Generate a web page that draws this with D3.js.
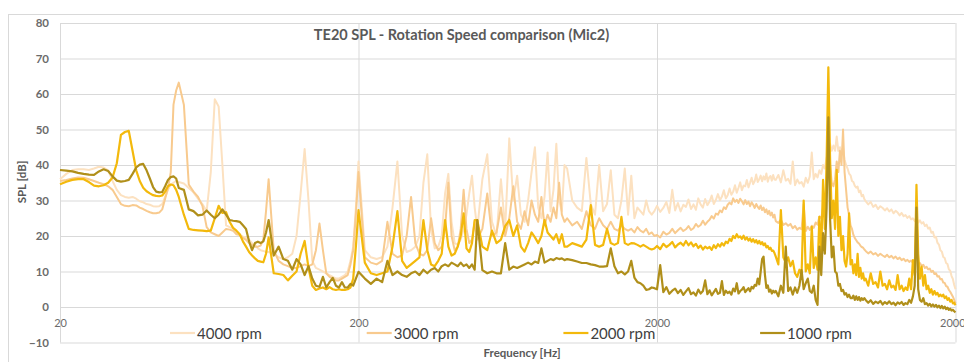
<!DOCTYPE html>
<html><head><meta charset="utf-8">
<script src="https://cdn.jsdelivr.net/npm/d3@7"></script>
<style>
body{margin:0;background:#fff}
svg{display:block}
text{font-family:Lato,"Open Sans",sans-serif}
</style>
</head><body>
<svg id="chart" width="964" height="362"></svg>
<script>
// ---------- DATA ----------
const freqs = [
 20,21,22,23,24,25,26,27,28,29,30,31,32,33,34,35,36,37,38,39,40,41,42,43,44,45,46,47,48,49,
 50,52,54,56,58,60,62,64,66,68,70,72,74,76,78,80,82,84,86,88,90,92,94,96,98,
 100,104,108,112,116,120,124,128,132,136,140,144,148,152,156,160,164,168,172,176,180,184,188,192,196,
 200,210,220,230,240,250,260,270,280,290,300,310,320,330,340,350,360,370,380,390,400,410,420,430,440,450,460,470,480,490,
 500,520,540,560,580,600,620,640,660,680,700,720,740,760,780,800,820,840,860,880,900,920,940,960,980,
 1000,1040,1080,1120,1160,1200,1240,1280,1320,1360,1400,1440,1480,1520,1560,1600,1640,1680,1720,1760,1800,1840,1880,1920,1960,
 2000,2050,2100,2150,2200,2250,2300,2350,2400,2450,2500,2550,2600,2650,2700,2750,2800,2850,2900,2950,
 3000,3050,3100,3150,3200,3250,3300,3350,3400,3450,3500,3550,3600,3650,3700,3750,3800,3850,3900,3950,
 4000,4050,4100,4150,4200,4250,4300,4350,4400,4450,4500,4550,4600,4650,4700,4750,4800,4850,4900,4950,
 5000,5100,5200,5300,5400,5500,5600,5700,5800,5900,6000,6100,6200,6300,6400,6500,6600,6700,6800,6900,
 7000,7100,7200,7300,7400,7500,7600,7700,7800,7900,8000,8100,8200,8300,8400,8500,8600,8700,8800,8900,
 9000,9100,9200,9300,9400,9500,9600,9700,9800,9900,
 10000,10200,10400,10600,10800,11000,11200,11400,11600,11800,12000,12200,12400,12600,12800,13000,13200,13400,13600,13800,
 14000,14200,14400,14600,14800,15000,15200,15400,15600,15800,16000,16200,16400,16600,16800,17000,17200,17400,17600,17800,
 18000,18200,18400,18600,18800,19000,19200,19400,19600,19800,20000
];

const rpm4000 = [
 36.0,37.5,38.6,38.8,38.8,38.6,39.0,39.5,39.3,38.5,35.5,33.0,31.5,31.0,30.8,31.0,30.5,29.8,29.5,29.0,28.8,28.4,28.3,28.4,29.0,31.0,33.0,34.5,35.0,35.5,
 35.2,34.8,33.5,32.3,30.5,29.0,27.0,38.0,58.5,56.5,40.0,23.0,22.5,22.0,21.0,20.5,19.8,19.5,19.0,18.0,17.5,16.5,16.0,15.8,15.5,
 15.5,15.0,14.0,13.5,14.0,15.0,20.0,32.0,44.5,30.0,13.0,11.0,10.5,10.0,9.5,9.0,8.5,8.0,8.0,8.5,9.0,10.0,13.0,17.0,28.0,
 41.0,16.0,14.0,13.5,14.0,17.0,28.0,41.0,20.0,15.5,16.0,17.0,20.0,35.0,43.0,22.0,16.5,17.0,20.0,32.0,37.5,24.0,18.0,17.5,19.0,22.0,26.0,32.0,37.0,28.0,
 22,36,43,24,20,36,22,47.5,30,37,26,24,30,38,45,28,25,31,43.5,27,33,46,30,27,40,
 39,30,28,27,42,29,26,40,27,29,38.5,26,25,30,39,26,37,25,28,27,26,30,27,26,27,
 28.5,26.8,27.9,29.6,26.5,33,27.2,29.3,26.9,28.8,
 28.2,30.3,27.6,28.9,27.4,30.6,28.9,28.0,30.4,28.7,
 29.7,31.4,29.0,30.2,31.8,30.1,31.1,32.9,30.6,31.5,
 33.4,31.6,32.5,34.3,32.2,33.6,35.1,32.9,34.2,34.0,
 35.8,33.7,35.0,36.4,34.6,35.5,37.3,35.2,36.0,37.0,
 35.4,36.8,35.9,37.6,35.3,36.5,36.9,35.6,37.2,35.9,
 35.8,37.2,35.1,38.5,35.6,36.1,34.7,41.0,34.3,35.9,34.8,35.2,33.9,36.4,35.0,36.8,43.5,36,37.5,36.5,
 38.5,37.5,40,39,42,44,46,44,45.5,44,48,44,45,43,45,41.5,40,39,37.6,37.1,
 35.5,35.2,34.1,33.6,33.9,32.3,32.8,31.2,31.6,30.4,
 29.8,28.9,29.6,28.2,28.8,27.6,28.4,27.9,27.2,27.8,
 26.9,27.5,26.4,27.1,26.6,25.8,26.5,25.6,25.9,25.1,
 25.6,24.7,25.0,24.2,25.3,23.8,24.4,23.5,23.9,22.8,
 23.2,22.1,22.4,20.9,21.2,19.6,19.8,18.1,17.6,16.0,
 15.6,14.1,13.8,12.4,12.1,10.6,10.2,8.7,7.9,6.2,5.0
];

const rpm3000 = [
 35.5,35.8,36.2,36.5,36.4,36.0,35.5,35.0,34.6,34.0,33.0,31.0,29.0,28.5,28.4,28.7,28.6,28.0,27.6,27.1,26.7,26.4,26.4,26.6,27.5,30.5,33.5,38.0,57.0,61.0,
 63.2,57.0,34.5,32.5,31.0,28.5,22.5,21.0,20.5,20.0,21.0,22.0,21.8,21.5,20.5,20.3,19.5,18.9,18.0,17.5,17.0,17.0,17.3,19.0,27.0,
 36.0,16.0,13.0,12.0,11.5,11.0,11.0,11.5,12.0,11.5,12.0,16.0,23.5,16.0,9.5,8.5,8.0,7.5,7.5,8.0,8.5,9.0,12.0,16.0,26.0,
 38.0,14.0,12.5,12.0,13.0,24.0,15.0,14.0,14.5,20.0,31.0,18.0,15.0,14.5,16.0,25.0,18.0,16.0,17.0,22.0,35.0,20.0,16.0,17.0,22.0,33.0,22.0,18.0,19.0,24.0,
 19,22,32,20,21,28,20,25,34,24,22,27,23,30,26,24,31,23,26,24,28,25,35,26,24,
 25,23,24,22,27,23,22,25,23,22,24,22,21.5,23,22,21.5,22,21,22.5,21.5,21,22,20.5,21,20,
 20.3,19.6,21.2,20.4,20.9,22.0,20.8,21.6,22.3,21.4,
 21.9,22.8,21.7,22.2,23.4,22.6,23.1,24.3,23.2,24.0,
 24.6,25.6,24.9,26.3,26.0,27.2,26.7,28.1,27.6,28.8,
 29.4,28.9,30.6,29.6,30.2,29.3,30.5,29.8,28.9,30.1,
 29.0,29.7,28.4,29.5,28.8,27.9,29.0,28.2,27.6,28.6,
 27.3,28.0,26.7,27.5,26.2,27.1,25.8,26.6,25.2,26.0,
 24.2,23.7,24.6,23.1,23.6,22.9,23.4,22.2,22.8,21.8,22.3,21.9,29,21.4,22.6,21.7,22.9,22.3,23.8,23.2,
 25.5,25,28,27,33,38,40,35,34,36,41,38,44,40,50,38,33,28,26,23,
 22,20.3,19.4,18.8,18.2,17.9,17.3,16.9,16.7,16.2,
 15.8,15.1,15.6,14.8,15.2,14.4,15.0,14.5,14.1,14.7,
 14.0,14.4,13.7,14.2,13.5,13.9,13.2,13.6,12.9,13.3,
 12.7,13.1,12.4,12.8,17.0,12.2,12.4,11.6,11.9,11.0,
 11.3,10.6,10.8,9.9,10.2,9.3,9.5,8.6,8.7,7.8,
 7.9,6.9,6.8,5.9,5.7,4.8,4.3,3.6,2.9,2.0,1.0
];

const rpm2000 = [
 34.6,35.3,35.8,36.0,36.0,35.2,34.2,34.0,34.3,35.0,36.5,40.5,48.5,49.3,49.6,44.0,38.5,35.5,33.6,32.6,32.0,31.5,31.3,31.2,31.4,32.5,34.0,34.5,34.3,33.0,
 31.0,26.0,22.0,21.7,21.6,21.5,21.4,21.5,25.0,28.5,26.5,26.7,24.0,22.3,21.5,20.5,18.5,17.0,15.5,14.5,13.7,13.0,12.8,12.6,15.0,
 19.6,9.5,9.3,9.0,7.5,8.8,10.0,15.0,18.6,11.0,6.0,4.8,5.2,5.5,5.0,5.6,5.0,4.8,5.0,4.8,4.8,5.0,5.5,8.0,17.0,
 27.3,12.5,9.5,9.0,9.5,10.0,17.0,27.0,13.0,11.0,12.0,13.0,14.0,24.5,16.0,12.0,11.5,13.0,15.0,24.5,17.0,14.5,15.0,17.0,20.0,26.4,16.5,15.5,18.0,24.5,
 24.5,17,16,21.5,18,19,22.8,24.5,20,23,17,15.6,18,21,19.6,18,20,24.5,21,20,19,20.5,18,20.5,17,
 17,18,17.5,17,19,28.7,17.5,17,17.5,22,18,17.5,18,25.4,18,17.5,18,17.9,17.5,17,17.5,17,16.5,16.2,16.5,
 17.2,16.3,17.8,16.9,17.5,18.3,16.8,17.6,18.1,17.3,
 18.6,17.4,18.2,17.1,17.8,16.6,17.3,16.2,17.0,16.5,
 16.9,16.1,17.4,16.6,17.7,17.0,18.0,17.3,18.4,18.0,
 19.2,18.6,20.0,19.4,20.5,19.6,19.9,19.2,20.1,19.0,
 19.6,18.7,19.3,18.4,19.1,18.2,18.8,17.9,18.6,17.7,
 18.3,17.4,17.9,16.8,17.2,16.3,16.7,15.8,15.9,15.2,
 14.2,12,27.3,14,12.5,14,11.5,13,9.5,8.5,10.5,9,30,10,12,9.5,22.6,11,14,10.5,
 25.4,15,35.8,22,41.4,67.5,42,25,30,22,38.6,20,25.4,16,20,13,11.4,15,26.4,12,
 13.2,9.5,12,9,15,8.5,11,8,9.5,7.5,
 8,6,9.5,6.5,7,5.5,10,6,6.5,5,7.5,5.5,6,4.8,9,5,6,4.5,5.5,4.8,
 8,5,13.2,9,34.4,15,8,11.4,6,9,5,6,4,5,3.5,4.5,3.5,4,3,3.5,
 3,3.5,2.5,3,2,2.5,1.5,2,1,1.2,0.5
];

const rpm1000 = [
 38.6,38.4,38.2,37.8,37.5,37.3,37.2,38.2,38.8,38.3,36.8,35.6,35.3,35.5,35.8,37.5,39.3,40.1,40.3,38.5,36.2,33.8,32.5,32.3,32.4,34.0,35.8,36.6,36.8,36.2,
 33.5,33.0,27.5,27.0,25.8,26.0,27.2,26.0,25.0,26.0,27.5,26.0,24.5,24.3,24.2,24.0,23.0,22.0,18.5,16.0,18.0,18.4,18.0,18.5,21.0,
 24.5,14.5,17.0,13.5,13.0,10.5,13.5,12.0,9.0,11.5,8.0,6.0,5.7,8.5,5.5,7.0,8.2,6.0,5.5,7.0,5.5,5.5,6.5,6.0,8.0,
 9.9,8.0,6.5,8.0,7.0,13.0,9.0,10.0,9.0,8.5,9.5,10.0,9.0,10.5,9.5,10.5,11.0,10.0,11.5,12.0,11.5,12.5,12.0,11.5,12.5,11.5,12.0,11.0,12.0,10.5,
 24.5,10.4,9.5,10,9.5,9.5,18,10.5,11.4,11,11.5,12,12.5,12,12.8,12.4,16.5,12.5,13,13.5,13.2,13.8,13.5,13.7,13.2,
 13.5,13.2,12.8,12.4,12.4,12,11.8,11.4,11.4,11.5,16.5,11.5,9.5,10,9.2,10,13,8.3,7,6.7,6,4.8,5,5.5,5.3,
 5,11.8,4.2,5.6,3.7,4.6,5.2,3.9,4.8,3.4,
 4.4,5.3,3.6,4.1,3.2,4.9,3.8,4.5,7.5,3.6,
 4.7,3.3,4.2,5.1,3.7,4.0,7.3,3.4,4.6,3.9,
 4.3,3.5,5.2,4.4,6.7,3.8,4.5,4.9,5.6,4.2,
 4.8,5.3,4.4,5.7,5.2,6.2,6.0,8.0,6.4,10.0,
 13.5,14.2,9.0,5.4,6.1,4.3,4.9,3.8,4.6,4.1,
 4.5,3,6,4,17,4.5,5.5,3.5,5.5,4,6,10.4,5,6.7,8,4.5,4,6,2,0.6,
 17,9,20.8,15,28,53.4,25,14,17,10,9.5,6,6.5,4.5,4.8,3.5,3.9,2.8,3.5,2.5,
 2.5,3.2,2,3,2,2.8,1.8,2.5,2,2.5,
 2,1.2,1.9,0.9,1.5,1.1,1.7,0.7,1.4,0.9,
 1.6,0.8,1.2,0.5,1.3,0.9,1.4,0.6,1.1,0.8,
 2,1.2,3,6,28,5,2,1.5,2.5,0.8,
 1.1,0.4,0.9,0.2,0.7,0.1,0.6,-0.1,0.4,-0.3,
 0.3,-0.4,0.1,-0.6,-0.2,-0.8,-0.5,-1.0,-0.8,-1.2,-1.5
];

const seriesNames = ["4000 rpm", "3000 rpm", "2000 rpm", "1000 rpm"];
const seriesValues = [rpm4000, rpm3000, rpm2000, rpm1000];
const seriesColors = ["#fce1c0", "#f8ca8e", "#f3b90c", "#b08f1a"];
const yTicks = [-10, 0, 10, 20, 30, 40, 50, 60, 70, 80];
const xTicks = [20, 200, 2000, 20000];
const xTickLabels = ["20", "200", "2000", "20000"];
const chartTitle = "TE20 SPL - Rotation Speed comparison (Mic2)";
const xTitle = "Frequency [Hz]";
const yTitle = "SPL [dB]";

// ---------- DRAW ----------
const svg = d3.select("#chart");
const L = 60, R = 955.5, T = 23, B = 342.5;
const x = d3.scaleLog().domain([20, 20000]).range([L, R]);
const y = d3.scaleLinear().domain([-10, 80]).range([B, T]);

// outer frame
svg.append("rect").attr("x", 8.5).attr("y", 14.5).attr("width", 1000).attr("height", 400)
  .attr("fill", "none").attr("stroke", "#d9d9d9");

// horizontal gridlines + y labels
const yAxis = svg.append("g").attr("transform", `translate(${L},0)`)
  .call(d3.axisLeft(y).tickValues(yTicks).tickSize(-(R - L)).tickPadding(11));
yAxis.select(".domain").remove();
yAxis.selectAll(".tick line").attr("stroke", "#d9d9d9");
yAxis.selectAll(".tick text").attr("fill", "#6b6b6b").style("font-size", "11.5px")
  .style("font-weight", "bold").style("font-family", "Lato, 'Open Sans', sans-serif");

// vertical gridlines
const xGrid = svg.append("g").attr("transform", `translate(0,${B})`)
  .call(d3.axisBottom(x).tickValues(xTicks).tickSize(-(B - T)).tickFormat(""));
xGrid.select(".domain").remove();
xGrid.selectAll(".tick line").attr("stroke", "#d9d9d9");

// x labels at y=0
const xAxis = svg.append("g").attr("transform", `translate(0,${y(0)})`)
  .call(d3.axisBottom(x).tickValues(xTicks).tickSize(0).tickPadding(12)
    .tickFormat((d, i) => xTickLabels[i]));
xAxis.select(".domain").remove();
xAxis.selectAll(".tick text").attr("fill", "#6b6b6b").style("font-size", "11px")
  .style("font-family", "Lato, 'Open Sans', sans-serif");

// series lines
const line = d3.line().x((d) => x(d[0])).y((d) => y(d[1]));
seriesValues.forEach((vals, i) => {
  const pts = freqs.map((f, j) => [f, vals[j]]).filter((d) => d[1] !== undefined);
  svg.append("path").datum(pts).attr("d", line)
    .attr("fill", "none").attr("stroke", seriesColors[i])
    .attr("stroke-width", i >= 2 ? 2.2 : 2).attr("stroke-linejoin", "round");
});

// title
svg.append("text").attr("x", 461.5).attr("y", 40).attr("text-anchor", "middle")
  .attr("fill", "#595959").style("font-size", "14.5px").style("font-weight", "bold").text(chartTitle);

// axis titles
svg.append("text").attr("x", 522).attr("y", 357).attr("text-anchor", "middle")
  .attr("fill", "#595959").style("font-size", "11.5px").style("font-weight", "bold").text(xTitle);
svg.append("text").attr("transform", "translate(22,182) rotate(-90)").attr("dy", "0.35em")
  .attr("text-anchor", "middle").attr("fill", "#595959").style("font-size", "11.5px")
  .style("font-weight", "bold").text(yTitle);

// legend
const legend = svg.append("g");
seriesNames.forEach((name, i) => {
  const lx = 170 + i * 196.7;
  legend.append("line").attr("x1", lx).attr("x2", lx + 25).attr("y1", 333).attr("y2", 333)
    .attr("stroke", seriesColors[i]).attr("stroke-width", 2.2);
  legend.append("text").attr("x", lx + 27).attr("y", 338.5).attr("fill", "#404040")
    .style("font-size", "15px").text(name);
});
</script>
</body></html>
